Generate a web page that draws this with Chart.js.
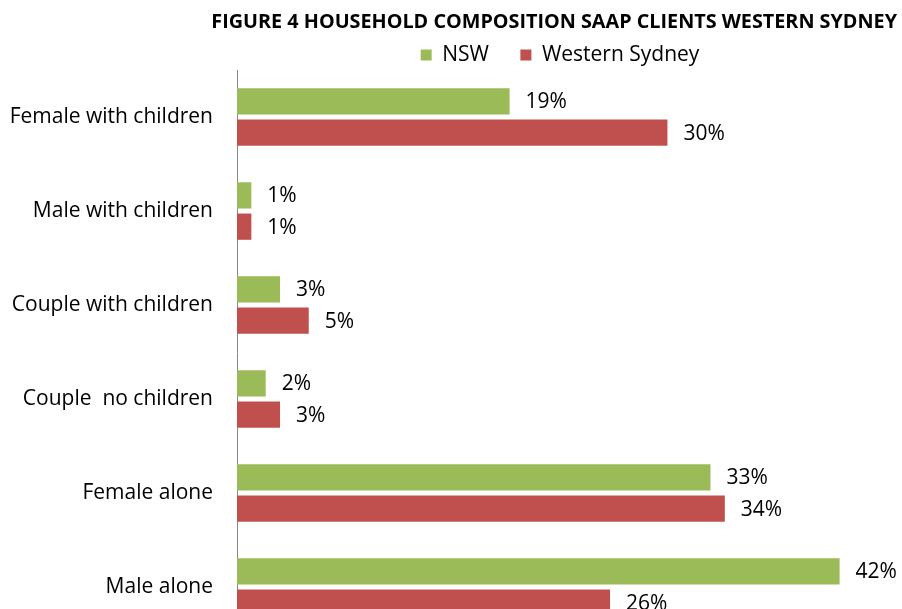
<!DOCTYPE html>
<html>
<head>
<meta charset="utf-8">
<script src="https://cdn.jsdelivr.net/npm/chart.js@4.4.1/dist/chart.umd.min.js"></script>
<style>
  html, body { margin: 0; padding: 0; background: #fff; overflow: hidden; }
  canvas { display: block; }
</style>
</head>
<body>
<canvas id="chart" width="902" height="640"></canvas>
<script>
// 가구 구성 — NSW vs Western Sydney (%)
const categories = [
  "Female with children",
  "Male with children",
  "Couple with children",
  "Couple  no children",
  "Female alone",
  "Male alone",
];
const nswValues = [19, 1, 3, 2, 33, 42];
const westernSydneyValues = [30, 1, 5, 3, 34, 26];
const seriesNames = ["NSW", "Western Sydney"];
const chartTitle = "FIGURE 4 HOUSEHOLD COMPOSITION SAAP CLIENTS WESTERN SYDNEY";

const FONT = "'Open Sans', Lato, sans-serif";

// 막대 끝에 값 라벨 (예: 19%)
const valueLabels = {
  id: "valueLabels",
  afterDatasetsDraw(chart) {
    const ctx = chart.ctx;
    ctx.save();
    ctx.font = "21px " + FONT;
    ctx.fillStyle = "#000";
    ctx.textAlign = "left";
    ctx.textBaseline = "middle";
    chart.data.datasets.forEach((ds, i) => {
      const meta = chart.getDatasetMeta(i);
      meta.data.forEach((bar, j) => {
        ctx.fillText(ds.data[j] + "%", bar.x + 16, bar.y + 1);
      });
    });
    ctx.restore();
  },
};

// 범례 아래 기본 여백(10px)을 조금 줄임
const tightLegend = {
  id: "tightLegend",
  afterInit(chart) {
    const legend = chart.legend;
    if (!legend) return;
    const fit = legend.fit;
    legend.fit = function () {
      fit.call(this);
      this.height -= 5.4;
    };
  },
};

new Chart(document.getElementById("chart"), {
  type: "bar",
  data: {
    labels: categories,
    datasets: [
      {
        label: seriesNames[0],
        data: nswValues,
        backgroundColor: "#9BBB59",
        categoryPercentage: 0.665,
        barPercentage: 0.84,
      },
      {
        label: seriesNames[1],
        data: westernSydneyValues,
        backgroundColor: "#C0504D",
        categoryPercentage: 0.665,
        barPercentage: 0.84,
      },
    ],
  },
  options: {
    indexAxis: "y",
    responsive: false,
    animation: false,
    layout: { padding: { left: 8, right: 5, top: 0, bottom: 6 } },
    scales: {
      x: {
        display: false,
        min: 0,
        max: 46,
      },
      y: {
        grid: { display: false, drawTicks: false },
        border: { display: true, color: "#888", width: 1 },
        ticks: {
          color: "#000",
          padding: 24,
          font: { family: FONT, size: 21 },
        },
        afterFit(scale) {
          // 라벨 폭/여백 고정 (세로 패딩 제거 → 마지막 항목이 아래로 잘림)
          scale.width = 229;
          scale.paddingTop = 0;
          scale.paddingBottom = 0;
        },
      },
    },
    plugins: {
      title: {
        display: true,
        text: chartTitle,
        align: "end",
        color: "#000",
        font: { family: FONT, size: 19.8, weight: "bold" },
        padding: { top: 10, bottom: 10.7 },
      },
      legend: {
        position: "top",
        fullSize: false,
        labels: {
          color: "#000",
          boxWidth: 11,
          boxHeight: 11,
          padding: 0,
          font: { family: FONT, size: 21 },
          generateLabels(c) {
            const items = Chart.defaults.plugins.legend.labels.generateLabels(c);
            items.forEach((it, i) => {
              it.text = it.text + (i < items.length - 1 ? "\u2003\u2002" : "\u2002\u2009");
            });
            return items;
          },
        },
      },
      tooltip: { enabled: false },
    },
  },
  plugins: [valueLabels, tightLegend],
});
</script>
</body>
</html>
